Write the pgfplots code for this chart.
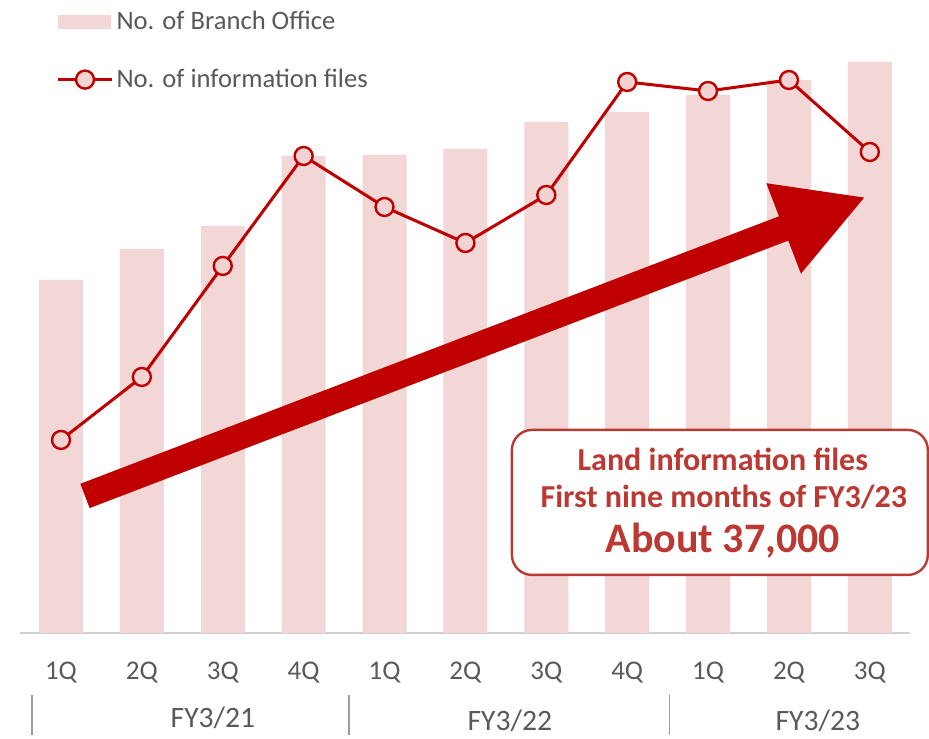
\documentclass[border=0pt]{standalone}
\usepackage{fontspec}
\setmainfont{Carlito}
\usepackage{pgfplots}
\pgfplotsset{compat=1.18}
\usetikzlibrary{arrows.meta}
\definecolor{BarPink}{HTML}{F3D6D6}
\definecolor{LineRed}{HTML}{C00000}
\definecolor{MarkPink}{HTML}{F2D3D3}
\definecolor{BoxRed}{HTML}{BA3A33}
\definecolor{TxtGray}{HTML}{595959}
\definecolor{AxGray}{HTML}{D0D0D0}

\begin{document}
\begin{tikzpicture}
\begin{axis}[
  scale only axis,
  width=445pt,height=316.5pt,
  xmin=-0.507,xmax=10.495,ymin=0,ymax=633,
  clip=false,
  axis y line=none,
  axis x line*=bottom,
  x axis line style={AxGray,line width=0.8pt,-},
  xtick={0,...,10},
  xticklabels={1Q,2Q,3Q,4Q,1Q,2Q,3Q,4Q,1Q,2Q,3Q},
  major tick length=0pt,
  xticklabel style={font=\fontsize{13.5}{15}\selectfont,text=TxtGray,anchor=base,yshift=-23.5pt},
  legend style={draw=none,fill=none,at={(axis cs:-0.06,626)},anchor=north west,
    inner sep=0pt,font=\fontsize{13.3}{15}\selectfont,text=TxtGray,row sep=14pt,
    nodes={inner xsep=1.5pt}},
  legend cell align=left,
]
\addplot[ybar,bar width=22pt,fill=BarPink,draw=none,
  legend image code/.code={\fill[BarPink] (0pt,-3.5pt) rectangle (26.5pt,3.5pt);}]
  coordinates {(0,353) (1,384) (2,407) (3,477) (4,478) (5,484) (6,511) (7,521) (8,538) (9,553) (10,571)};
\addlegendentry{No. of Branch Office}
\addplot[LineRed,line width=1.5pt,mark=*,mark size=4.5pt,
  mark options={fill=MarkPink,draw=LineRed,line width=1.2pt},
  legend image code/.code={\draw[LineRed,line width=1.5pt] (0pt,0pt) -- (27pt,0pt);
    \draw[fill=MarkPink,draw=LineRed,line width=1.2pt] (13.5pt,0pt) circle (4.5pt);}]
  coordinates {(0,193) (1,256) (2,367) (3,477) (4,426) (5,390) (6,438) (7,551) (8,542) (9,553) (10,481)};
\addlegendentry{No. of information files}

% big trend arrow
\draw[LineRed,line width=13pt,-{Triangle[length=44pt,width=45pt]}]
  (axis cs:0.297,137) -- (axis cs:9.95,436);

% callout box
\draw[BoxRed,line width=1.2pt,fill=white,rounded corners=10pt]
  (axis cs:5.575,58) rectangle (axis cs:10.717,203);
\node[BoxRed,font=\fontsize{16}{18}\selectfont\bfseries] at (axis cs:8.183,174) {Land information files};
\node[BoxRed,font=\fontsize{16}{18}\selectfont\bfseries] at (axis cs:8.195,136) {First nine months of FY3/23};
\node[BoxRed,font=\fontsize{21}{24}\selectfont\bfseries] at (axis cs:8.183,92) {About 37,000};

% fiscal year groups
\draw[TxtGray!60,line width=0.6pt] (axis cs:-0.358,-62) -- (axis cs:-0.358,-102);
\draw[TxtGray!60,line width=0.6pt] (axis cs:3.56,-62) -- (axis cs:3.56,-102);
\draw[TxtGray!60,line width=0.6pt] (axis cs:7.528,-62) -- (axis cs:7.528,-102);
\node[TxtGray,font=\fontsize{14.8}{16}\selectfont] at (axis cs:1.879,-85) {FY3/21};
\node[TxtGray,font=\fontsize{14.8}{16}\selectfont] at (axis cs:5.55,-88) {FY3/22};
\node[TxtGray,font=\fontsize{14.8}{16}\selectfont] at (axis cs:9.357,-88) {FY3/23};

\path[use as bounding box] (axis cs:-0.754,-104) rectangle (axis cs:10.729,633);
\end{axis}
\end{tikzpicture}
\end{document}
